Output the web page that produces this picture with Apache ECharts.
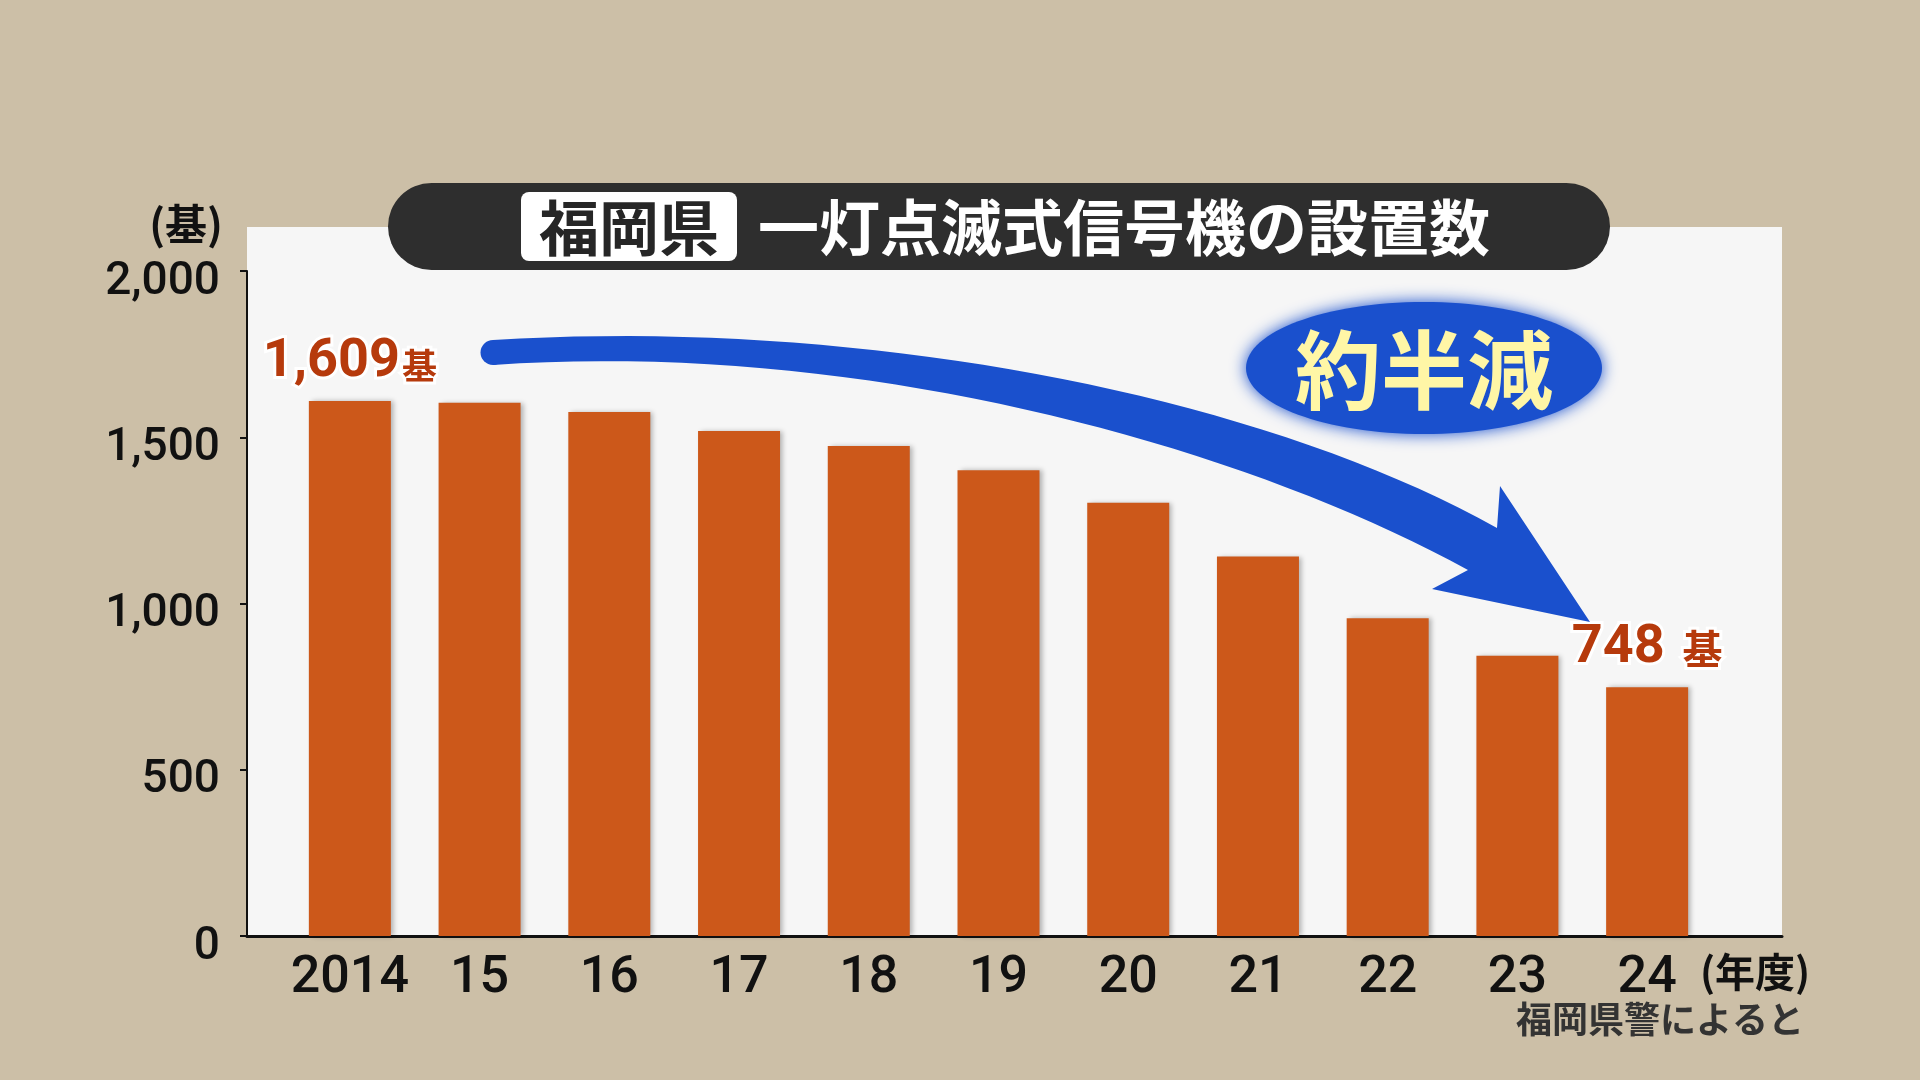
<!DOCTYPE html>
<html>
<head>
<meta charset="utf-8">
<title>福岡県 一灯点滅式信号機の設置数</title>
<script src="https://cdn.jsdelivr.net/npm/echarts@6/dist/echarts.min.js"></script>
<style>
  html, body { margin: 0; padding: 0; background: #ccbfa7; }
  #chart { width: 1920px; height: 1080px; }
</style>
</head>
<body>
<div id="chart"></div>
<script>
// data (fiscal years, count of units)
var years = ['2014', '15', '16', '17', '18', '19', '20', '21', '22', '23', '24'];
var counts = [1609, 1604, 1576, 1519, 1474, 1401, 1303, 1141, 956, 843, 748];
var yTicks = [0, 500, 1000, 1500, 2000];

var titlePref = '福岡県';
var titleMain = '一灯点滅式信号機の設置数';
var unitName = '(基)';
var yearUnit = '(年度)';
var sourceNote = '福岡県警によると';
var callout = '約半減';

var BAR = '#cc581a';
var LABEL_RED = '#b63a0c';
var BLUE = '#1a50cd';
var JP = '"Noto Sans CJK JP", "Noto Sans", sans-serif';
var NUM = 'Roboto, "Liberation Sans", sans-serif';

function fmt(v) { return v.toLocaleString('en-US'); }

// bar end labels, only first and last year carry one
function endLabel(v, gap, unitSize) {
    return {
        show: true,
        position: 'top',
        distance: 12,
        formatter: '{a|' + fmt(v) + '}{b|基}',
        rich: {
            a: { fontFamily: NUM, fontSize: 54, fontWeight: 'bold', color: LABEL_RED,
                 textBorderColor: '#fff', textBorderWidth: 6, verticalAlign: 'bottom' },
            b: { fontFamily: JP, fontSize: unitSize, fontWeight: 'bold', color: LABEL_RED,
                 textBorderColor: '#fff', textBorderWidth: 6, verticalAlign: 'bottom',
                 padding: [0, 0, 6, gap] }
        }
    };
}

var barData = counts.map(function(v, i) {
    if (i === 0) return { value: v, label: endLabel(v, 2, 35) };
    if (i === counts.length - 1) return { value: v, label: endLabel(v, 18, 40) };
    return v;
});

// tapered curved arrow (decoration)
function bez(p0, c1, c2, p3, t) {
    var u = 1 - t;
    return [
        u*u*u*p0[0] + 3*u*u*t*c1[0] + 3*u*t*t*c2[0] + t*t*t*p3[0],
        u*u*u*p0[1] + 3*u*u*t*c1[1] + 3*u*t*t*c2[1] + t*t*t*p3[1]
    ];
}
var arrowPts = [];
var i;
for (i = 0; i <= 40; i++) arrowPts.push(bez([493, 340], [850, 318], [1250, 390], [1497, 528], i / 40));
arrowPts.push([1500, 486], [1590, 622], [1432, 589]);
for (i = 40; i >= 0; i--) arrowPts.push(bez([493, 365], [850, 340], [1230, 440], [1468, 570], i / 40));

var chart = echarts.init(document.getElementById('chart'), null, { renderer: 'canvas' });

chart.setOption({
    animation: false,
    backgroundColor: '#ccbfa7',
    grid: [
        { left: 247, right: 138, top: 271, bottom: 144 },
        { left: 285, right: 208, top: 271, bottom: 144 }
    ],
    xAxis: [
        {
            gridIndex: 0, type: 'value', min: 0, max: 1,
            axisLine: { show: true, onZero: false, lineStyle: { color: '#111', width: 3 } },
            axisTick: { show: false }, axisLabel: { show: false }, splitLine: { show: false }
        },
        {
            gridIndex: 1, type: 'category', data: years,
            axisLine: { show: false }, axisTick: { show: false },
            axisLabel: { interval: 0, margin: 17, fontFamily: NUM, fontSize: 52, fontWeight: 500, color: '#111' }
        }
    ],
    yAxis: [
        {
            gridIndex: 0, type: 'value', min: yTicks[0], max: yTicks[yTicks.length - 1], interval: 500,
            name: unitName, nameLocation: 'end', nameGap: 26,
            nameTextStyle: { fontFamily: JP, fontSize: 42, fontWeight: 'bold', color: '#111',
                             align: 'right', padding: [0, 24, 0, 0] },
            axisLine: { show: true, lineStyle: { color: '#111', width: 2 } },
            axisTick: { show: true, length: 7, lineStyle: { color: '#111', width: 2 } },
            axisLabel: { margin: 27, fontFamily: NUM, fontSize: 46, fontWeight: 500, color: '#111',
                         verticalAlign: 'top', lineHeight: 22,
                         formatter: function(v) { return fmt(v); } },
            splitLine: { show: false }
        },
        {
            gridIndex: 1, type: 'value', min: yTicks[0], max: yTicks[yTicks.length - 1],
            show: false, splitLine: { show: false }
        }
    ],
    series: [{
        type: 'bar',
        xAxisIndex: 1, yAxisIndex: 1,
        data: barData,
        barWidth: 82,
        itemStyle: { color: BAR, shadowColor: 'rgba(0,0,0,0.28)', shadowBlur: 5, shadowOffsetX: 3 },
        label: { show: false }
    }],
    graphic: [
        // white plot panel
        { type: 'rect', z: -10, silent: true, shape: { x: 247, y: 227, width: 1535, height: 710 },
          style: { fill: '#f6f6f6' } },
        // title pill
        { type: 'rect', z: 50, shape: { x: 388, y: 183, width: 1222, height: 87, r: 43.5 },
          style: { fill: '#2e2e2e' } },
        { type: 'rect', z: 51, shape: { x: 521, y: 192, width: 216, height: 69, r: 8 },
          style: { fill: '#ffffff' } },
        { type: 'text', z: 52, x: 629, y: 228,
          style: { text: titlePref, fontFamily: JP, fontSize: 60, fontWeight: 'bold', fill: '#262626',
                   align: 'center', verticalAlign: 'middle' } },
        { type: 'text', z: 52, x: 758, y: 228,
          style: { text: titleMain, fontFamily: JP, fontSize: 61, fontWeight: 'bold', fill: '#ffffff',
                   align: 'left', verticalAlign: 'middle' } },
        // arrow
        { type: 'circle', z: 20, shape: { cx: 493, cy: 352.5, r: 12.5 }, style: { fill: BLUE } },
        { type: 'polygon', z: 20, shape: { points: arrowPts }, style: { fill: BLUE } },
        // callout ellipse
        { type: 'ellipse', z: 21, shape: { cx: 1424, cy: 368, rx: 178, ry: 66 },
          style: { fill: BLUE, shadowColor: BLUE, shadowBlur: 16 } },
        { type: 'text', z: 22, x: 1424, y: 370,
          style: { text: callout, fontFamily: JP, fontSize: 86, fontWeight: 'bold', fill: '#fff6a6',
                   align: 'center', verticalAlign: 'middle' } },
        // year unit and source
        { type: 'text', z: 5, x: 1700, y: 972,
          style: { text: yearUnit, fontFamily: JP, fontSize: 40, fontWeight: 'bold', fill: '#111',
                   align: 'left', verticalAlign: 'middle' } },
        { type: 'text', z: 5, x: 1804, y: 1019,
          style: { text: sourceNote, fontFamily: JP, fontSize: 36, fontWeight: 'bold', fill: '#333',
                   align: 'right', verticalAlign: 'middle' } }
    ]
});
</script>
</body>
</html>
